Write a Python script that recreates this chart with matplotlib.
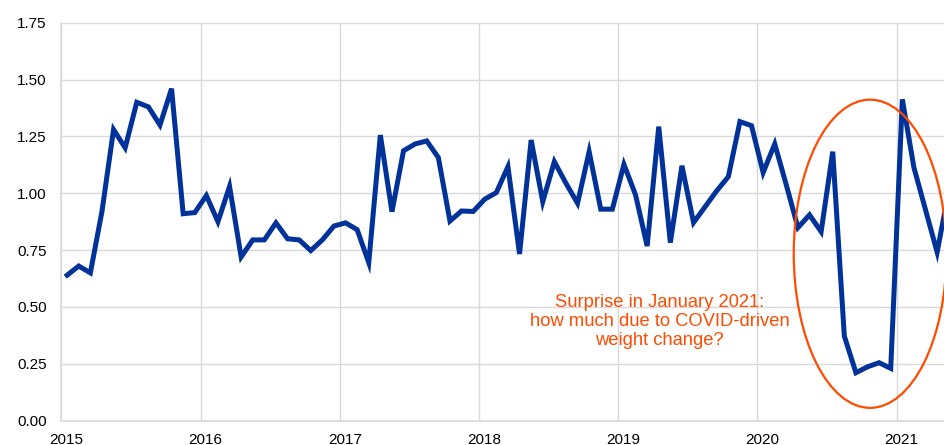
import numpy as np
import matplotlib
matplotlib.use("Agg")
import matplotlib.pyplot as plt
from matplotlib.patches import Ellipse
from matplotlib.transforms import ScaledTranslation

plt.rcParams["font.family"] = ["Liberation Sans", "DejaVu Sans"]

# monthly values, Jan 2015 .. May 2021
values = [
    0.64, 0.68, 0.65, 0.92, 1.28, 1.20, 1.40, 1.38, 1.30, 1.46, 0.91, 0.915,   # 2015
    0.99, 0.875, 1.03, 0.72, 0.795, 0.795, 0.87, 0.80, 0.795, 0.748, 0.795, 0.856,  # 2016
    0.87, 0.84, 0.695, 1.256, 0.919, 1.187, 1.217, 1.23, 1.157, 0.878, 0.922, 0.92,  # 2017
    0.974, 1.003, 1.117, 0.733, 1.234, 0.963, 1.139, 1.044, 0.956, 1.183, 0.93, 0.93,  # 2018
    1.127, 0.993, 0.768, 1.293, 0.783, 1.121, 0.871, 0.941, 1.011, 1.073, 1.315, 1.297,  # 2019
    1.091, 1.217, 1.036, 0.849, 0.905, 0.831, 1.183, 0.372, 0.211, 0.237, 0.255, 0.230,  # 2020
    1.413, 1.113, 0.927, 0.741, 1.01,  # 2021
]
start_year = 2015
years = list(range(2015, 2022))
yticks = [0.00, 0.25, 0.50, 0.75, 1.00, 1.25, 1.50, 1.75]
note = "Surprise in January 2021:\nhow much due to COVID-driven\nweight change?"

blue = "#003299"
orange = "#FF4B00"
grid = "#D9D9D9"

x = start_year + (np.arange(len(values)) + 0.5) / 12.0

fig = plt.figure(figsize=(9.44, 4.45), dpi=100)
ax = fig.add_axes([0.065, 0.0546, 0.935, 0.8944])

ax.plot(x, values, color=blue, lw=3.6, solid_joinstyle="miter", zorder=3)

ax.set_xlim(2015, 2021.341)
ax.set_ylim(0, 1.75)
ax.set_yticks(yticks)
ax.set_yticklabels([f"{v:.2f}" for v in yticks])
ax.set_xticks(years)
ax.set_xticklabels([str(y) for y in years])

ax.grid(True, color=grid, lw=1.0, zorder=0)
ax.set_axisbelow(True)
for s in ("top", "right"):
    ax.spines[s].set_visible(False)
for s in ("left", "bottom"):
    ax.spines[s].set_color(grid)
    ax.spines[s].set_linewidth(1.2)
ax.tick_params(axis="y", length=0, pad=10.5, labelsize=11, colors="#000000")
ax.tick_params(axis="x", length=0, pad=8.5, labelsize=11, colors="#000000")
for lab in ax.get_xticklabels():
    lab.set_transform(lab.get_transform() + ScaledTranslation(5 / 100, 0, fig.dpi_scale_trans))

# annotation ellipse around the 2020/21 dip
ell = Ellipse((2020.81, 0.734), width=1.097, height=1.355, transform=ax.transData,
              fill=False, edgecolor=orange, lw=1.6, zorder=4, clip_on=False)
ax.add_patch(ell)

ax.text(2019.297, 0.436, note, color=orange, fontsize=13.2, ha="center", va="center",
        linespacing=1.17)

fig.savefig("out.png", dpi=100)
